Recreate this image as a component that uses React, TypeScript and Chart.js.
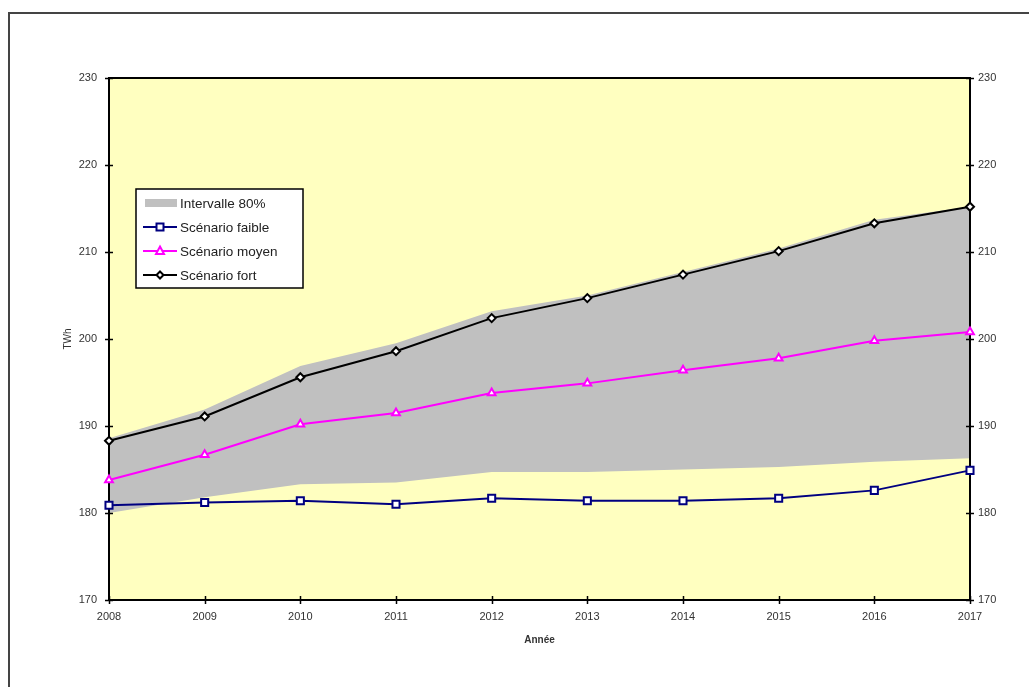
import React, { useEffect, useRef } from 'react';
import { Chart, registerables } from 'chart.js';

Chart.register(...registerables);

const years = ['2008', '2009', '2010', '2011', '2012', '2013', '2014', '2015', '2016', '2017'];
const scenarioFort = [188.3, 191.1, 195.6, 198.6, 202.4, 204.7, 207.4, 210.1, 213.3, 215.2];
const scenarioMoyen = [183.8, 186.7, 190.2, 191.5, 193.8, 194.9, 196.4, 197.8, 199.8, 200.8];
const scenarioFaible = [180.9, 181.2, 181.4, 181.0, 181.7, 181.4, 181.4, 181.7, 182.6, 184.9];
const intervalleHaut = [188.6, 191.9, 196.9, 199.5, 203.2, 205.0, 207.7, 210.4, 213.7, 215.2];
const intervalleBas = [180.0, 181.8, 183.3, 183.5, 184.7, 184.7, 185.0, 185.3, 185.9, 186.3];
const yTicks = [170, 180, 190, 200, 210, 220, 230];
const legendLabels = ['Intervalle 80%', 'Scénario faible', 'Scénario moyen', 'Scénario fort'];
const yTitle = 'TWh';
const xTitle = 'Année';

const FONT = 'Arial, "Liberation Sans", sans-serif';
const NAVY = '#000080';
const MAGENTA = '#FF00FF';
const BLACK = '#000000';
const BAND = '#C0C0C0';
const PLOT_BG = '#FFFFC0';

function drawMarker(ctx: CanvasRenderingContext2D, kind: string, x: number, y: number, color: string) {
  ctx.save();
  ctx.strokeStyle = color;
  ctx.fillStyle = '#ffffff';
  ctx.lineWidth = 2;
  ctx.beginPath();
  if (kind === 'rect') {
    ctx.rect(x - 3.5, y - 3.5, 7, 7);
  } else if (kind === 'triangle') {
    ctx.moveTo(x, y - 4.5);
    ctx.lineTo(x + 4, y + 3);
    ctx.lineTo(x - 4, y + 3);
    ctx.closePath();
  } else {
    ctx.moveTo(x, y - 3.5);
    ctx.lineTo(x + 3.5, y);
    ctx.lineTo(x, y + 3.5);
    ctx.lineTo(x - 3.5, y);
    ctx.closePath();
  }
  ctx.fill();
  ctx.stroke();
  ctx.restore();
}

export default function App() {
  const ref = useRef<HTMLCanvasElement>(null);

  useEffect(() => {
    const canvas = ref.current;
    if (!canvas) return;

    const plotBg = {
      id: 'plotBg',
      beforeDraw(chart: any) {
        const { ctx, chartArea: a } = chart;
        ctx.save();
        ctx.fillStyle = PLOT_BG;
        ctx.fillRect(a.left, a.top, a.right - a.left, a.bottom - a.top);
        ctx.restore();
      },
    };

    const frame = {
      id: 'frame',
      beforeDatasetsDraw(chart: any) {
        const { ctx, chartArea: a, scales } = chart;
        ctx.save();
        ctx.strokeStyle = BLACK;
        ctx.lineWidth = 2;
        ctx.strokeRect(a.left, a.top, a.right - a.left, a.bottom - a.top);
        ctx.lineWidth = 1.5;
        ctx.beginPath();
        yTicks.forEach((v) => {
          const py = Math.round(scales.y.getPixelForValue(v)) + 0.5;
          ctx.moveTo(a.left - 4, py);
          ctx.lineTo(a.left + 4, py);
          ctx.moveTo(a.right - 4, py);
          ctx.lineTo(a.right + 4, py);
        });
        years.forEach((_, i) => {
          const px = Math.round(scales.x.getPixelForValue(i)) + 0.5;
          ctx.moveTo(px, a.bottom - 4);
          ctx.lineTo(px, a.bottom + 4);
        });
        ctx.stroke();
        ctx.restore();
      },
      afterDraw(chart: any) {
        const { ctx, chartArea: a } = chart;
        ctx.save();
        ctx.fillStyle = '#333333';
        ctx.font = `10px ${FONT}`;
        ctx.textAlign = 'center';
        ctx.textBaseline = 'middle';
        ctx.translate(68, (a.top + a.bottom) / 2);
        ctx.rotate(-Math.PI / 2);
        ctx.fillText(yTitle, 0, 0);
        ctx.restore();

        ctx.save();
        ctx.fillStyle = '#333333';
        ctx.font = `bold 10px ${FONT}`;
        ctx.textAlign = 'center';
        ctx.textBaseline = 'middle';
        ctx.fillText(xTitle, (a.left + a.right) / 2, 640);
        ctx.restore();

        // legend
        const bx = 136, by = 189, bw = 167, bh = 99;
        ctx.save();
        ctx.fillStyle = '#ffffff';
        ctx.fillRect(bx, by, bw, bh);
        ctx.strokeStyle = BLACK;
        ctx.lineWidth = 1.5;
        ctx.strokeRect(bx, by, bw, bh);
        const rows = [203, 227, 251, 275];
        const sx0 = 145, sx1 = 177, tx = 180;
        ctx.fillStyle = BAND;
        ctx.fillRect(sx0, rows[0] - 4, sx1 - sx0, 8);
        const lines = [
          { color: NAVY, kind: 'rect' },
          { color: MAGENTA, kind: 'triangle' },
          { color: BLACK, kind: 'diamond' },
        ];
        lines.forEach((l, i) => {
          const y = rows[i + 1];
          ctx.strokeStyle = l.color;
          ctx.lineWidth = 2;
          ctx.beginPath();
          ctx.moveTo(sx0 - 2, y);
          ctx.lineTo(sx1, y);
          ctx.stroke();
          drawMarker(ctx, l.kind, (sx0 + sx1) / 2 - 1, y, l.color);
        });
        ctx.fillStyle = '#222222';
        ctx.font = `13.5px ${FONT}`;
        ctx.textAlign = 'left';
        ctx.textBaseline = 'middle';
        legendLabels.forEach((t, i) => ctx.fillText(t, tx, rows[i] + 1));
        ctx.restore();
      },
    };

    const tickFont = { family: FONT, size: 11 };

    const chart = new Chart(canvas, {
      type: 'line',
      data: {
        labels: years,
        datasets: [
          {
            label: 'Scénario faible',
            data: scenarioFaible,
            borderColor: NAVY,
            backgroundColor: '#ffffff',
            borderWidth: 2,
            pointStyle: 'rect',
            pointRadius: 5,
            pointBorderWidth: 2,
            pointBorderColor: NAVY,
            pointBackgroundColor: '#ffffff',
            fill: false,
            tension: 0,
            clip: false,
            order: 1,
          },
          {
            label: 'Scénario moyen',
            data: scenarioMoyen,
            borderColor: MAGENTA,
            backgroundColor: '#ffffff',
            borderWidth: 2,
            pointStyle: 'triangle',
            pointRadius: 4.5,
            pointBorderWidth: 2,
            pointBorderColor: MAGENTA,
            pointBackgroundColor: '#ffffff',
            fill: false,
            tension: 0,
            clip: false,
            order: 1,
          },
          {
            label: 'Scénario fort',
            data: scenarioFort,
            borderColor: BLACK,
            backgroundColor: '#ffffff',
            borderWidth: 2,
            pointStyle: 'rectRot',
            pointRadius: 4,
            pointBorderWidth: 2,
            pointBorderColor: BLACK,
            pointBackgroundColor: '#ffffff',
            fill: false,
            tension: 0,
            clip: false,
            order: 1,
          },
          {
            label: 'Intervalle 80%',
            data: intervalleHaut,
            borderColor: 'rgba(0,0,0,0)',
            backgroundColor: BAND,
            borderWidth: 0,
            pointRadius: 0,
            fill: '+1',
            tension: 0,
            order: 5,
          },
          {
            label: 'Intervalle bas',
            data: intervalleBas,
            borderColor: 'rgba(0,0,0,0)',
            backgroundColor: BAND,
            borderWidth: 0,
            pointRadius: 0,
            fill: false,
            tension: 0,
            order: 6,
          },
        ],
      },
      options: {
        animation: false,
        responsive: false,
        devicePixelRatio: 1,
        layout: { padding: { top: 78, left: 0, right: 0, bottom: 0 } },
        plugins: {
          legend: { display: false },
          tooltip: { enabled: false },
          filler: { drawTime: 'beforeDatasetsDraw' },
        },
        scales: {
          x: {
            type: 'category',
            offset: false,
            grid: { display: false },
            border: { display: false },
            ticks: { font: tickFont, color: '#333333', padding: 2, maxRotation: 0, autoSkip: false },
            afterFit: (s: any) => { s.height = 87; },
          },
          y: {
            type: 'linear',
            position: 'left',
            min: 170,
            max: 230,
            grid: { display: false },
            border: { display: false },
            ticks: { stepSize: 10, font: tickFont, color: '#333333', padding: 4 },
            afterFit: (s: any) => { s.width = 109; },
          },
          y1: {
            type: 'linear',
            position: 'right',
            min: 170,
            max: 230,
            grid: { display: false },
            border: { display: false },
            ticks: { stepSize: 10, font: tickFont, color: '#333333', padding: 0 },
            afterFit: (s: any) => { s.width = 59; },
          },
        },
      } as any,
      plugins: [plotBg, frame],
    });

    return () => chart.destroy();
  }, []);

  return (
    <div style={{ position: 'fixed', left: 0, top: 0, width: 1029, height: 687, overflow: 'hidden', background: '#ffffff' }}>
      <div
        style={{
          position: 'absolute',
          left: 8,
          top: 12,
          width: 1100,
          height: 800,
          border: '2px solid #444444',
          boxSizing: 'border-box',
        }}
      />
      <canvas ref={ref} width={1029} height={687} style={{ position: 'absolute', left: 0, top: 0 }} />
    </div>
  );
}
